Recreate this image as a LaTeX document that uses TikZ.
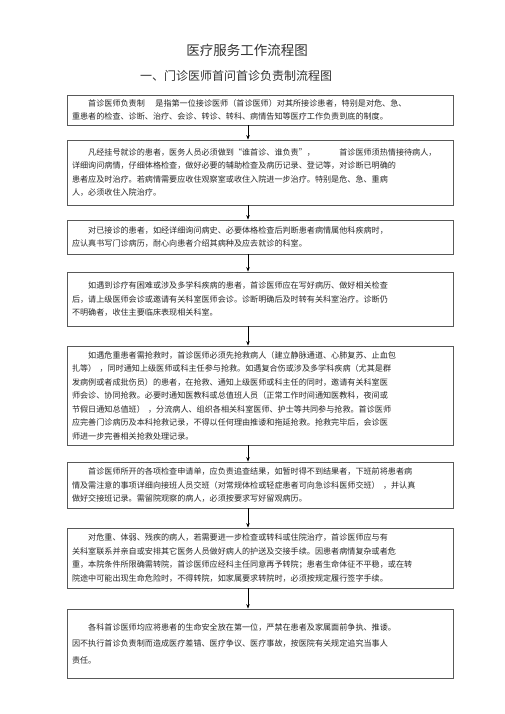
\documentclass[tikz,border=0pt]{standalone}
\usepackage{fontspec}
\newfontfamily\cjk{Noto Sans CJK SC}
\usetikzlibrary{arrows.meta}
\begin{document}
\begin{tikzpicture}[x=1pt, y=-1pt, line width=0.8pt, flow box/.style={rectangle,draw=black!65,minimum width=386pt,text width=376pt,inner xsep=5pt,inner ysep=0pt,align=left,text=black!85,font=\cjk\fontsize{8.1}{13.5}\selectfont}]%
\useasboundingbox (0,0) rectangle (505,714);
\begin{scope}[every node/.style={text=black!80}]
\node[font=\cjk\fontsize{13.5}{16}\selectfont] (title) at (247,50) {医疗服务工作流程图};
\node[font=\cjk\fontsize{12}{14}\selectfont] (sub) at (236,76) {一、门诊医师首问首诊负责制流程图};
\end{scope}
\node[flow box,minimum height=30pt] (b1) at (260,110) {\hspace*{2em}首诊医师负责制\hspace{1.3em}是指第一位接诊医师（首诊医师）对其所接诊患者，特别是对危、急、\\
重患者的检查、诊断、治疗、会诊、转诊、转科、病情告知等医疗工作负责到底的制度。};%1
\node[flow box,minimum height=65pt] (b2) at (260,172.5) {\hspace*{2em}凡经挂号就诊的患者，医务人员必须做到“谁首诊、谁负责”，\hspace{3em}首诊医师须热情接待病人，\\
详细询问病情，仔细体格检查，做好必要的辅助检查及病历记录、登记等，对诊断已明确的\\
患者应及时治疗。若病情需要应收住观察室或收住入院进一步治疗。特别是危、急、重病\\
人，必须收住入院治疗。};%2
\node[flow box,minimum height=34pt] (b3) at (260,237) {\hspace*{2em}对已接诊的患者，如经详细询问病史、必要体格检查后判断患者病情属他科疾病时，\\
应认真书写门诊病历，耐心向患者介绍其病种及应去就诊的科室。};%3
\node[flow box,minimum height=54pt] (b4) at (260,299) {\hspace*{2em}如遇到诊疗有困难或涉及多学科疾病的患者，首诊医师应在写好病历、做好相关检查\\
后，请上级医师会诊或邀请有关科室医师会诊。诊断明确后及时转有关科室治疗。诊断仍\\
不明确者，收住主要临床表现相关科室。};%4
\node[flow box,minimum height=99pt] (b5) at (260,395.5) {\hspace*{2em}如遇危重患者需抢救时，首诊医师必须先抢救病人（建立静脉通道、心肺复苏、止血包\\
扎等）\hspace{0.4em}，同时通知上级医师或科主任参与抢救。如遇复合伤或涉及多学科疾病（尤其是群\\
发病例或者成批伤员）的患者，在抢救、通知上级医师或科主任的同时，邀请有关科室医\\
师会诊、协同抢救。必要时通知医教科或总值班人员（正常工作时间通知医教科，夜间或\\
节假日通知总值班）\hspace{0.4em}，分流病人、组织各相关科室医师、护士等共同参与抢救。首诊医师\\
应完善门诊病历及本科抢救记录，不得以任何理由推诿和拖延抢救。抢救完毕后，会诊医\\
师进一步完善相关抢救处理记录。};%5
\node[flow box,minimum height=46pt] (b6) at (260,485) {\hspace*{2em}首诊医师所开的各项检查申请单，应负责追查结果，如暂时得不到结果者，下班前将患者病\\
情及需注意的事项详细向接班人员交班（对常规体检或轻症患者可向急诊科医师交班）\hspace{0.4em}，并认真\\
做好交接班记录。需留院观察的病人，必须按要求写好留观病历。};%6
\node[flow box,minimum height=60pt] (b7) at (260,558) {\hspace*{2em}对危重、体弱、残疾的病人，若需要进一步检查或转科或住院治疗，首诊医师应与有\\
关科室联系并亲自或安排其它医务人员做好病人的护送及交接手续。因患者病情复杂或者危\\
重，本院条件所限确需转院，首诊医师应经科主任同意再予转院；患者生命体征不平稳，或在转\\
院途中可能出现生命危险时，不得转院，如家属要求转院时，必须按规定履行签字手续。};%7
\node[flow box,minimum height=69pt] (b8) at (260,643.5) {\hspace*{2em}各科首诊医师均应将患者的生命安全放在第一位，严禁在患者及家属面前争执、推诿。\\[3pt]
因不执行首诊负责制而造成医疗差错、医疗争议、医疗事故，按医院有关规定追究当事人\\[3pt]
责任。};%8
\begin{scope}[every edge/.style={draw=black,line width=0.7pt,-{Stealth[length=4.5pt,width=3.5pt]}}]
\draw ([xshift=-12pt]b1.south) edge ([xshift=-12pt]b2.north);
\draw ([xshift=-12pt]b2.south) edge ([xshift=-12pt]b3.north);
\draw ([xshift=-12pt]b3.south) edge ([xshift=-12pt]b4.north);
\draw ([xshift=-12pt]b4.south) edge ([xshift=-12pt]b5.north);
\draw ([xshift=-12pt]b5.south) edge ([xshift=-12pt]b6.north);
\draw ([xshift=-12pt]b6.south) edge ([xshift=-12pt]b7.north);
\draw ([xshift=-12pt]b7.south) edge ([xshift=-12pt]b8.north);
\end{scope}
\end{tikzpicture}
\end{document}
